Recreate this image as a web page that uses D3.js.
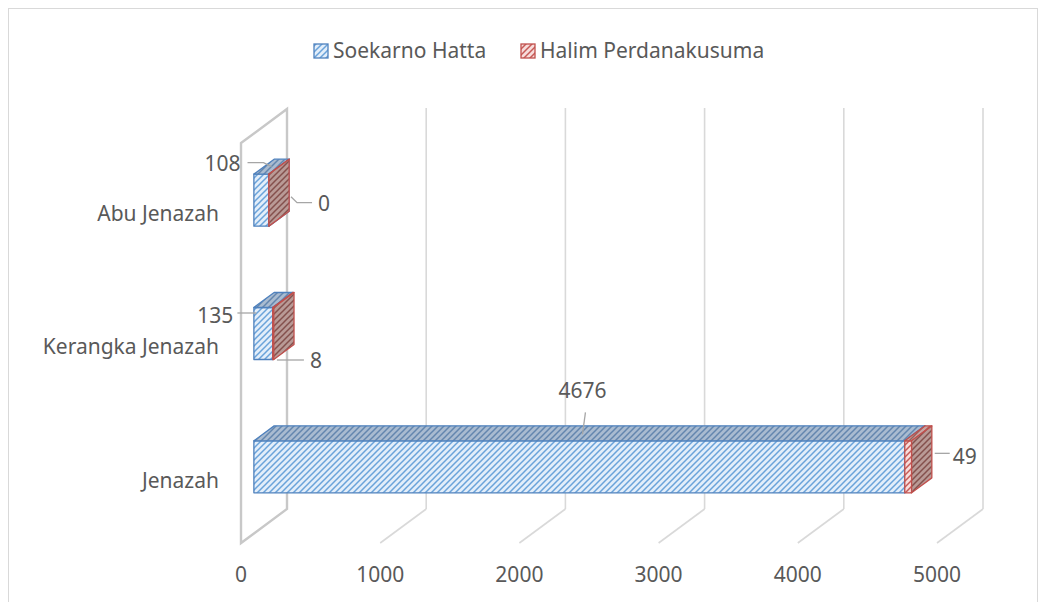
<!DOCTYPE html>
<html><head><meta charset="utf-8">
<script src="https://cdn.jsdelivr.net/npm/d3@7"></script>
<style>
html,body{margin:0;padding:0;background:#fff;}
text{font-family:"Noto Sans",sans-serif;fill:#595959;}
</style></head>
<body><svg id="chart" width="1046" height="602"></svg>
<script>
// ---- data ----
const categories = ["Abu Jenazah", "Kerangka Jenazah", "Jenazah"];
const seriesNames = ["Soekarno Hatta", "Halim Perdanakusuma"];
const soekarnoHatta = [108, 135, 4676];
const halimPerdanakusuma = [0, 8, 49];
const tickValues = [0, 1000, 2000, 3000, 4000, 5000];

// ---- layout ----
const svg = d3.select("#chart");
const DX = 46, DY = -34;            // depth vector (front -> back)
const T0 = 0.28, T1 = 0.72;         // bar depth extent
const BAR_H = 52;
const x = d3.scaleLinear().domain([0, 5000]).range([241, 937]);
const y = d3.scaleBand().domain(categories).range([143, 543]);
const P = (v, yy, t) => [x(v) + t * DX, yy + t * DY];
const poly = pts => pts.map(p => p.join(",")).join(" ");

// outer border
svg.append("rect").attr("x", 8.5).attr("y", 8.5).attr("width", 1029).attr("height", 620)
  .attr("fill", "none").attr("stroke", "#d9d9d9").attr("stroke-width", 1);

// patterns
const defs = svg.append("defs");
function pat(id, bg, fg, sw) {
  const p = defs.append("pattern").attr("id", id).attr("patternUnits", "userSpaceOnUse")
    .attr("width", 6).attr("height", 6);
  p.append("rect").attr("width", 6).attr("height", 6).attr("fill", bg);
  p.append("path").attr("d", "M-1,7 L7,-1 M-1,1 L1,-1 M5,7 L7,5")
    .attr("stroke", fg).attr("stroke-width", sw);
}
pat("bFront", "#e3eefa", "#6aa3da", 1.5);
pat("bTop", "#a9bbd0", "#6386ae", 1.5);
pat("rFront", "#f7dcdb", "#c65a57", 1.5);
pat("rSide", "#b99a96", "#84504d", 1.5);
pat("rTop", "#caa4a2", "#94605d", 1.5);

// back wall gridlines
const yTop = y.range()[0], yBot = y.range()[1];
svg.append("g").selectAll("line").data(tickValues.slice(1)).join("line")
  .attr("x1", d => P(d, yTop, 1)[0]).attr("y1", d => P(d, yTop, 1)[1] - 1)
  .attr("x2", d => P(d, yBot, 1)[0]).attr("y2", d => P(d, yBot, 1)[1])
  .attr("stroke", "#d9d9d9").attr("stroke-width", 1.6);
// floor lines
svg.append("g").selectAll("line").data(tickValues.slice(1)).join("line")
  .attr("x1", d => P(d, yBot, 0)[0]).attr("y1", d => P(d, yBot, 0)[1])
  .attr("x2", d => P(d, yBot, 1)[0]).attr("y2", d => P(d, yBot, 1)[1])
  .attr("stroke", "#d9d9d9").attr("stroke-width", 1.6);
// side wall
svg.append("polygon")
  .attr("points", poly([P(0, yTop, 0), P(0, yTop, 1), P(0, yBot, 1), P(0, yBot, 0)]))
  .attr("fill", "none").attr("stroke", "#c8c8c8").attr("stroke-width", 2.4).attr("stroke-linejoin", "miter");

// bars
const stacks = categories.map((c, i) => {
  const yc = y(c) + y.bandwidth() / 2;
  return [
    {cat: c, a: 0, b: soekarnoHatta[i], yc, s: 0},
    {cat: c, a: soekarnoHatta[i], b: soekarnoHatta[i] + halimPerdanakusuma[i], yc, s: 1}
  ];
});
const styles = [
  {front: "url(#bFront)", top: "url(#bTop)", side: "url(#bTop)", stroke: "#4f81bd"},
  {front: "url(#rFront)", top: "url(#rTop)", side: "url(#rSide)", stroke: "#c0504d"}
];
const gBars = svg.append("g");
stacks.forEach(st => st.forEach(seg => {
  const st = styles[seg.s];
  const t = seg.yc - BAR_H / 2, btm = seg.yc + BAR_H / 2;
  const g = gBars.append("g").attr("stroke", st.stroke).attr("stroke-width", 1.3).attr("stroke-linejoin", "round");
  g.append("polygon").attr("points", poly([P(seg.a, t, T0), P(seg.b, t, T0), P(seg.b, btm, T0), P(seg.a, btm, T0)])).attr("fill", st.front);
  g.append("polygon").attr("points", poly([P(seg.a, t, T0), P(seg.b, t, T0), P(seg.b, t, T1), P(seg.a, t, T1)])).attr("fill", st.top);
  g.append("polygon").attr("points", poly([P(seg.b, t, T0), P(seg.b, t, T1), P(seg.b, btm, T1), P(seg.b, btm, T0)])).attr("fill", st.side);
}));

// data labels (anchors computed from bar geometry; offsets are layout)
const FS = 21;
const labelLayout = [
  // Soekarno Hatta: anchor = top-face middle
  [{lx: -31, ly: -3, anchor: "end", path: [[0, 0], [-8, -4], [-24, -4]]},
   {lx: -40, ly: 16, anchor: "end", path: [[-17, 13], [-36, 13]]},
   {lx: -7, ly: -43, anchor: "middle", path: [[-7, 1], [-4, -21]]}],
  // Halim: anchor = right side face middle
  [{lx: 39, ly: 11, anchor: "start", path: [[12, 4], [18, 10], [33, 10]]},
   {lx: 26, ly: 35, anchor: "start", path: [[-7, 34], [20, 34]]},
   {lx: 31, ly: -3, anchor: "start", path: [[13, -6], [28, -6]]}]
];
const gLab = svg.append("g");
stacks.forEach((st, i) => st.forEach(seg => {
  const L = labelLayout[seg.s][i];
  let ax, ay;
  if (seg.s === 0) {
    [ax, ay] = P((seg.a + seg.b) / 2, seg.yc - BAR_H / 2, (T0 + T1) / 2);
  } else {
    [ax, ay] = P(seg.b, seg.yc, (T0 + T1) / 2);
  }
  gLab.append("polyline").attr("points", poly(L.path.map(p => [ax + p[0], ay + p[1]])))
    .attr("fill", "none").attr("stroke", "#a6a6a6").attr("stroke-width", 1.3);
  gLab.append("text").attr("x", ax + L.lx).attr("y", ay + L.ly).attr("dy", "0.35em")
    .attr("text-anchor", L.anchor).attr("font-size", FS).text(seg.b - seg.a);
}));

// category labels
svg.append("g").selectAll("text").data(categories).join("text")
  .attr("x", 219).attr("y", d => y(d) + y.bandwidth() / 2 + 4).attr("dy", "0.35em")
  .attr("text-anchor", "end").attr("font-size", FS).text(d => d);

// value axis labels
svg.append("g").selectAll("text").data(tickValues).join("text")
  .attr("x", d => x(d)).attr("y", 575).attr("dy", "0.35em")
  .attr("text-anchor", "middle").attr("font-size", FS).text(d => d);

// legend
const legend = svg.append("g");
const legItems = [{name: seriesNames[0], s: 0, x: 314}, {name: seriesNames[1], s: 1, x: 521}];
legItems.forEach(it => {
  legend.append("rect").attr("x", it.x).attr("y", 44).attr("width", 14).attr("height", 14)
    .attr("fill", styles[it.s].front).attr("stroke", styles[it.s].stroke).attr("stroke-width", 1.3);
  legend.append("text").attr("x", it.x + 19).attr("y", 51).attr("dy", "0.35em")
    .attr("font-size", FS).text(it.name);
});
</script></body></html>
